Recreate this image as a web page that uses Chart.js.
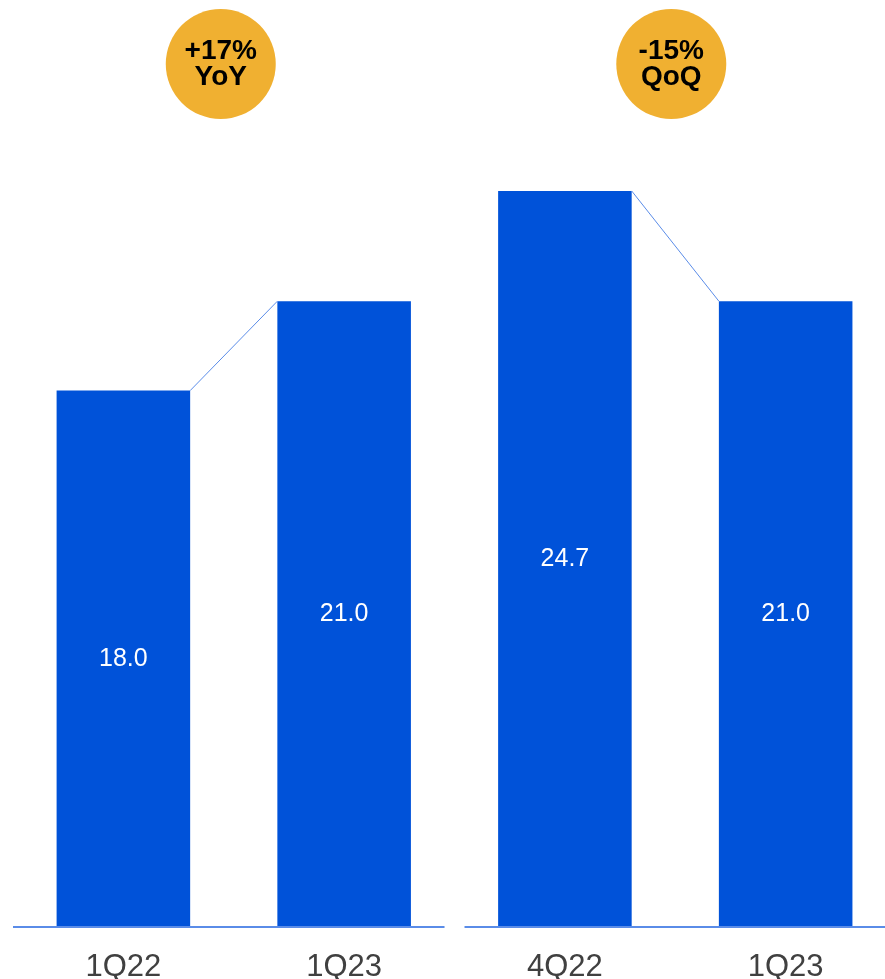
<!DOCTYPE html>
<html>
<head>
<meta charset="utf-8">
<script src="https://cdn.jsdelivr.net/npm/chart.js@4.4.0/dist/chart.umd.min.js"></script>
<style>
  html, body { margin: 0; padding: 0; background: #fff; overflow: hidden; }
  #wrap { width: 885px; height: 979px; }
</style>
</head>
<body>
<div id="wrap"><canvas id="myChart" width="885" height="979"></canvas></div>
<script>
// quarters, two comparison pairs
const labels = ['1Q22', '1Q23', '4Q22', '1Q23'];
const values = [18.0, 21.0, 24.7, 21.0];
const badges = [['+17%', 'YoY'], ['-15%', 'QoQ']];

const BLUE = '#0052d9';
const LINE = '#5a8ce8';
const GOLD = '#f0b031';

// bars on a linear x so the groups are evenly spaced
const points = values.map((v, i) => ({ x: i, y: v }));

const extras = {
  id: 'extras',
  afterDatasetsDraw(chart) {
    const ctx = chart.ctx;
    const bars = chart.getDatasetMeta(0).data;
    const xs = chart.scales.x;
    const area = chart.chartArea;

    // value labels inside the bars
    ctx.save();
    ctx.fillStyle = '#fff';
    ctx.font = '25px "Liberation Sans", Arial, sans-serif';
    ctx.textAlign = 'center';
    ctx.textBaseline = 'middle';
    bars.forEach((b, i) => {
      ctx.fillText(values[i].toFixed(1), b.x, (b.y + b.base) / 2);
    });
    ctx.restore();

    // thin connectors between the tops of each pair
    ctx.save();
    ctx.strokeStyle = LINE;
    ctx.lineWidth = 1;
    [[0, 1], [2, 3]].forEach(([a, c]) => {
      const ba = bars[a], bc = bars[c];
      ctx.beginPath();
      ctx.moveTo(ba.x + ba.width / 2, ba.y);
      ctx.lineTo(bc.x - bc.width / 2, bc.y);
      ctx.stroke();
    });
    ctx.restore();

    // split baseline
    const gap = xs.getPixelForValue(1.5);
    ctx.save();
    ctx.strokeStyle = LINE;
    ctx.lineWidth = 2;
    ctx.beginPath();
    ctx.moveTo(area.left, area.bottom);
    ctx.lineTo(gap - 10, area.bottom);
    ctx.moveTo(gap + 10, area.bottom);
    ctx.lineTo(chart.width, area.bottom);
    ctx.stroke();
    ctx.restore();

    // change badges
    const shifts = [-13, -4];
    badges.forEach((t, k) => {
      const cx = (bars[k * 2].x + bars[k * 2 + 1].x) / 2 + shifts[k];
      const cy = 64;
      ctx.save();
      ctx.fillStyle = GOLD;
      ctx.beginPath();
      ctx.arc(cx, cy, 55, 0, Math.PI * 2);
      ctx.fill();
      ctx.fillStyle = '#000';
      ctx.font = 'bold 28px "Liberation Sans", Arial, sans-serif';
      ctx.textAlign = 'center';
      ctx.textBaseline = 'middle';
      ctx.fillText(t[0], cx, cy - 13);
      ctx.fillText(t[1], cx, cy + 13);
      ctx.restore();
    });
  }
};

const config = {
  type: 'bar',
  data: {
    datasets: [{
      data: points,
      backgroundColor: BLUE,
      borderWidth: 0,
      barPercentage: 1,
      categoryPercentage: 0.605
    }]
  },
  options: {
    responsive: false,
    animation: false,
    layout: { padding: { left: 13, right: 0, top: 33, bottom: 0 } },
    plugins: { legend: { display: false }, tooltip: { enabled: false } },
    scales: {
      x: {
        type: 'linear',
        min: -0.5,
        max: 3.45,
        offset: false,
        grid: { display: false, drawTicks: false },
        border: { display: false },
        afterBuildTicks: (s) => { s.ticks = labels.map((_, i) => ({ value: i })); },
        afterFit: (s) => { s.height = 52; },
        ticks: {
          padding: 22,
          color: '#404040',
          font: { family: '"Liberation Sans", Arial, sans-serif', size: 31 },
          maxRotation: 0,
          autoSkip: false,
          callback: (v) => labels[v]
        }
      },
      y: {
        display: false,
        min: 0,
        max: 30
      }
    }
  },
  plugins: [extras]
};

const myChart = new Chart(document.getElementById('myChart'), config);
</script>
</body>
</html>
